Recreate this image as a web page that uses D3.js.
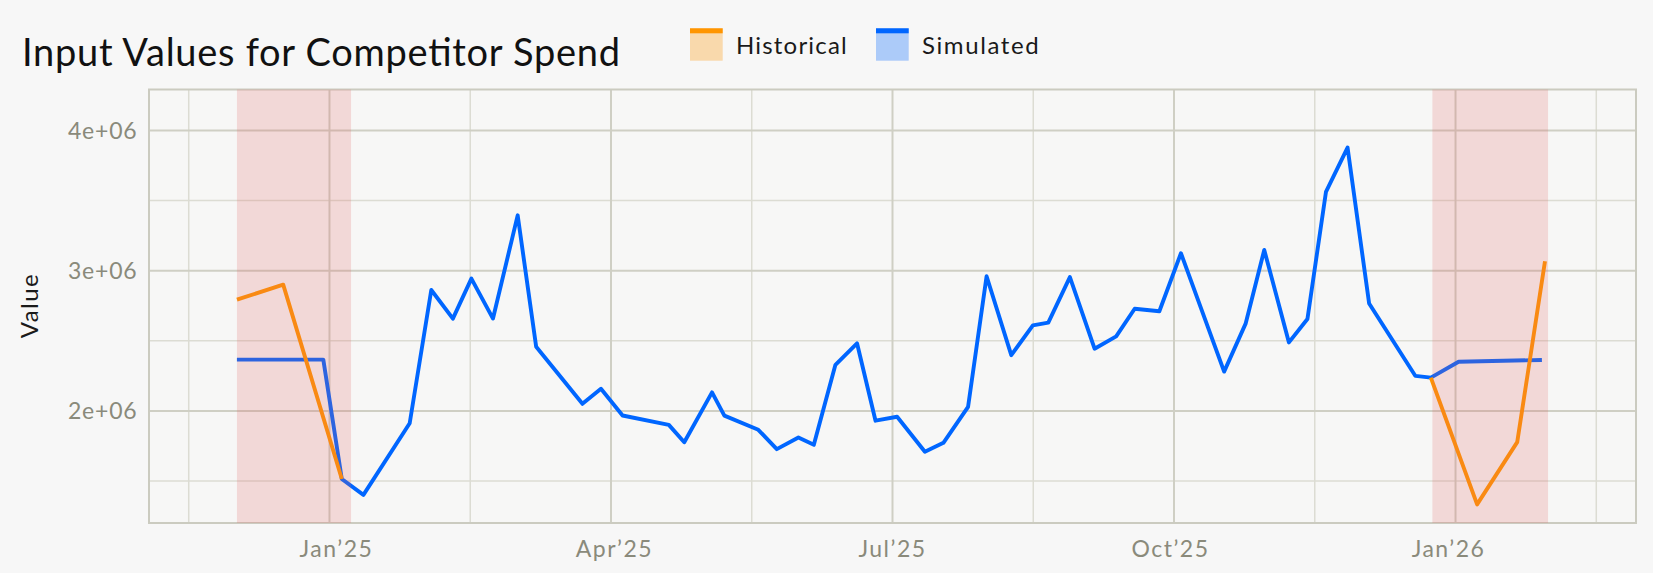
<!DOCTYPE html>
<html>
<head>
<meta charset="utf-8">
<script src="https://cdn.jsdelivr.net/npm/d3@7"></script>
<style>
  html, body { margin: 0; padding: 0; background: #f7f7f7; }
  svg { display: block; font-family: Lato, "Open Sans", sans-serif; }
</style>
</head>
<body>
<svg id="chart" width="1653" height="573"></svg>
<script>
// ---------------- data ----------------
const title = "Input Values for Competitor Spend";
const yAxisTitle = "Value";
const seriesNames = ["Historical", "Simulated"];

const simulatedDates = [
  "2024-12-02","2024-12-30","2025-01-05","2025-01-12","2025-01-27","2025-02-03",
  "2025-02-10","2025-02-16","2025-02-23","2025-03-03","2025-03-09","2025-03-24",
  "2025-03-30","2025-04-06","2025-04-21","2025-04-26","2025-05-05","2025-05-09",
  "2025-05-20","2025-05-26","2025-06-02","2025-06-07","2025-06-14","2025-06-21",
  "2025-06-27","2025-07-04","2025-07-13","2025-07-19","2025-07-27","2025-08-02",
  "2025-08-10","2025-08-17","2025-08-22","2025-08-29","2025-09-06","2025-09-13",
  "2025-09-19","2025-09-27","2025-10-04","2025-10-18","2025-10-25","2025-10-31",
  "2025-11-08","2025-11-14","2025-11-20","2025-11-27","2025-12-04","2025-12-19",
  "2025-12-24","2026-01-02","2026-01-29"
];
const simulatedValues = [
  2366000,2366000,1515000,1402000,1913000,2863000,
  2659000,2944000,2659000,3395000,2458000,2051000,
  2158000,1968000,1901000,1777000,2133000,1967000,
  1866000,1728000,1811000,1759000,2329000,2483000,
  1931000,1959000,1709000,1773000,2030000,2961000,
  2398000,2611000,2630000,2955000,2444000,2532000,
  2729000,2711000,3125000,2281000,2625000,3148000,
  2489000,2656000,3562000,3878000,2766000,2250000,
  2238000,2351000,2364000
];

// historical input only differs from simulation inside the two highlighted windows
const historicalDates = [
  "2024-12-02","2024-12-17","2025-01-05",
  "2025-12-24","2026-01-08","2026-01-21","2026-01-30"
];
const historicalValues = [
  2794000,2901000,1515000,
  2238000,1334000,1778000,3068000
];
const historicalSegment = [0,0,0,1,1,1,1];

// highlighted windows
const windowStarts = ["2024-12-02T00:00","2025-12-24T12:00"];
const windowEnds   = ["2025-01-08T00:00","2026-01-31T00:00"];

// axes
const xDomain = ["2024-11-03T12:00","2026-02-28T12:00"];
const yDomain = [1201400, 4292300];
const yMajorTicks = [2000000, 3000000, 4000000];
const yMinorTicks = [1500000, 2500000, 3500000];
const yTickLabels = ["2e+06","3e+06","4e+06"];
const xTickStart = "2025-01-01T00:00";
const xTickEnd   = "2026-01-01T00:00";
const xTickLabels = ["Jan’25","Apr’25","Jul’25","Oct’25","Jan’26"];

// ---------------- styles ----------------
const colors = { Historical: "#ff9500", Simulated: "#0066ff" };
const bg = "#f7f7f7";

const parse = s => new Date(s.length === 10 ? s + "T00:00:00Z" : s + ":00Z");

const W = 1653, H = 573;
const M = { left: 149, right: W - 1636, top: 89.5, bottom: H - 523 };

const svg = d3.select("#chart");
svg.append("rect").attr("width", W).attr("height", H).attr("fill", bg);

const x = d3.scaleUtc().domain(xDomain.map(parse)).range([M.left, W - M.right]);
const y = d3.scaleLinear().domain(yDomain).range([H - M.bottom, M.top]);

// uniform quarterly ticks between the two year starts
const t0 = parse(xTickStart).getTime(), t1 = parse(xTickEnd).getTime();
const q = (t1 - t0) / (xTickLabels.length - 1);
const xMajor = xTickLabels.map((_, i) => new Date(t0 + i * q));
const xMinor = d3.range(-1, xTickLabels.length).map(i => new Date(t0 + (i + 0.5) * q))
  .filter(d => x(d) > M.left && x(d) < W - M.right);

const g = svg.append("g");

// plot background
g.append("rect")
  .attr("x", M.left).attr("y", M.top)
  .attr("width", W - M.left - M.right).attr("height", H - M.top - M.bottom)
  .attr("fill", "#f7f7f6");

// minor grid
g.append("g").selectAll("line").data(yMinorTicks).join("line")
  .attr("x1", M.left).attr("x2", W - M.right)
  .attr("y1", d => y(d)).attr("y2", d => y(d))
  .attr("stroke", "#dcdcd3").attr("stroke-width", 1.5);
g.append("g").selectAll("line").data(xMinor).join("line")
  .attr("x1", d => x(d)).attr("x2", d => x(d))
  .attr("y1", M.top).attr("y2", H - M.bottom)
  .attr("stroke", "#dcdcd3").attr("stroke-width", 1.5);

// major grid
g.append("g").selectAll("line").data(yMajorTicks).join("line")
  .attr("x1", M.left).attr("x2", W - M.right)
  .attr("y1", d => y(d)).attr("y2", d => y(d))
  .attr("stroke", "#cfcfc4").attr("stroke-width", 2);
g.append("g").selectAll("line").data(xMajor).join("line")
  .attr("x1", d => x(d)).attr("x2", d => x(d))
  .attr("y1", M.top).attr("y2", H - M.bottom)
  .attr("stroke", "#cfcfc4").attr("stroke-width", 2);

// frame
g.append("rect")
  .attr("x", M.left).attr("y", M.top)
  .attr("width", W - M.left - M.right).attr("height", H - M.top - M.bottom)
  .attr("fill", "none").attr("stroke", "#cbcbc0").attr("stroke-width", 2);

// lines
const line = d3.line().x(d => x(d.date)).y(d => y(d.value)).defined(d => d.value != null);

const sim = simulatedDates.map((d, i) => ({ date: parse(d), value: simulatedValues[i] }));
g.append("path").datum(sim)
  .attr("d", line).attr("fill", "none")
  .attr("stroke", colors.Simulated).attr("stroke-width", 3.9)
  .attr("stroke-linejoin", "round").attr("stroke-linecap", "butt");

const hist = historicalDates.map((d, i) => ({ date: parse(d), value: historicalValues[i], seg: historicalSegment[i] }));
const histGroups = d3.groups(hist, d => d.seg);
g.append("g").selectAll("path").data(histGroups).join("path")
  .attr("d", d => line(d[1])).attr("fill", "none")
  .attr("stroke", colors.Historical).attr("stroke-width", 3.9)
  .attr("stroke-linejoin", "round").attr("stroke-linecap", "butt");

// highlighted windows (drawn over the lines, translucent)
g.append("g").selectAll("rect").data(windowStarts.map((s, i) => [parse(s), parse(windowEnds[i])])).join("rect")
  .attr("x", d => x(d[0])).attr("width", d => x(d[1]) - x(d[0]))
  .attr("y", M.top).attr("height", H - M.top - M.bottom)
  .attr("fill", "#e0605f").attr("fill-opacity", 0.2);

// y tick labels
g.append("g").selectAll("text").data(yMajorTicks).join("text")
  .attr("x", 137.5).attr("y", d => y(d)).attr("dy", "0.35em")
  .attr("text-anchor", "end")
  .attr("font-size", 23).attr("letter-spacing", 0.8)
  .attr("fill", "#8a8a7b")
  .text((d, i) => yTickLabels[i]);

// x tick labels (the label row is very slightly tighter than the grid, pivoting on the middle tick)
const labelPivot = x(xMajor[Math.floor(xMajor.length / 2)]);
const labelSqueeze = 0.9876;
g.append("g").selectAll("text").data(xMajor).join("text")
  .attr("x", d => labelPivot + (x(d) - labelPivot) * labelSqueeze).attr("y", 556.5)
  .attr("text-anchor", "middle")
  .attr("font-size", 23).attr("letter-spacing", 1.5)
  .attr("fill", "#8a8a7b")
  .text((d, i) => xTickLabels[i]);

// y axis title
svg.append("text")
  .attr("transform", `translate(37.5, ${(M.top + H - M.bottom) / 2}) rotate(-90)`)
  .attr("text-anchor", "middle")
  .attr("font-size", 24).attr("fill", "#1a1a1a")
  .attr("textLength", 64).attr("lengthAdjust", "spacing")
  .text(yAxisTitle);

// title
svg.append("text")
  .attr("x", 22).attr("y", 65.5)
  .attr("font-size", 38).attr("fill", "#111")
  .attr("textLength", 598).attr("lengthAdjust", "spacing")
  .text(title);

// legend
const legendX = [690, 876];
const textLen = [110.7, 116.7];
const lg = svg.append("g");
seriesNames.forEach((name, i) => {
  const c = colors[name];
  lg.append("rect").attr("x", legendX[i]).attr("y", 28.3).attr("width", 32.7).attr("height", 32.4)
    .attr("fill", c).attr("fill-opacity", 0.3);
  lg.append("rect").attr("x", legendX[i]).attr("y", 28.3).attr("width", 32.7).attr("height", 5)
    .attr("fill", c);
  lg.append("text").attr("x", legendX[i] + 46).attr("y", 54)
    .attr("font-size", 24).attr("fill", "#1a1a1a")
    .attr("textLength", textLen[i]).attr("lengthAdjust", "spacing")
    .text(name);
});
</script>
</body>
</html>
